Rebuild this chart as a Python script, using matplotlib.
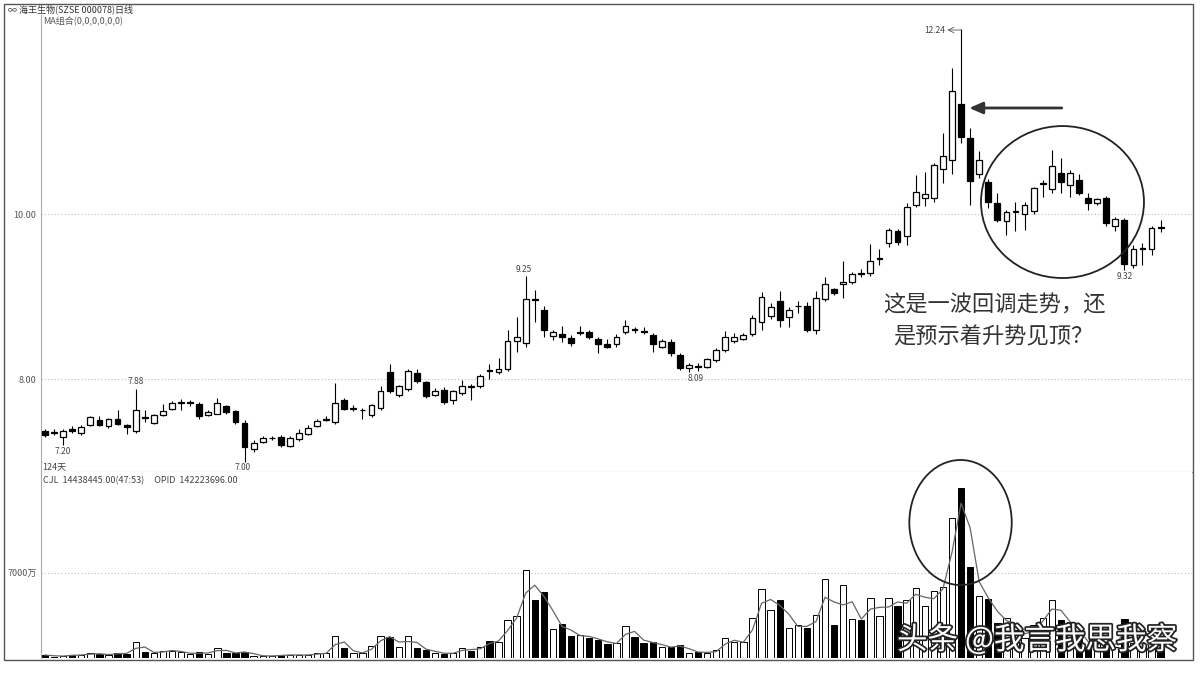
import numpy as np
import pandas as pd
import matplotlib
matplotlib.use('Agg')
import matplotlib.pyplot as plt
from matplotlib.patches import Rectangle, Ellipse
import matplotlib.patheffects as pe

plt.rcParams['font.family'] = ['Noto Sans CJK SC', 'DejaVu Sans']

# daily candles, 124 days
opens = [7.37, 7.36, 7.30, 7.39, 7.34, 7.44, 7.50, 7.43, 7.52, 7.44,
         7.37, 7.54, 7.47, 7.56, 7.64, 7.71, 7.71, 7.70, 7.56, 7.58,
         7.67, 7.61, 7.47, 7.15, 7.24, 7.28, 7.30, 7.19, 7.27, 7.33,
         7.43, 7.50, 7.48, 7.75, 7.64, 7.62, 7.56, 7.65, 8.08, 7.81,
         7.88, 8.07, 7.96, 7.81, 7.87, 7.74, 7.83, 7.91, 7.92, 8.11,
         8.08, 8.12, 8.46, 8.44, 8.97, 8.84, 8.52, 8.54, 8.50, 8.56,
         8.57, 8.49, 8.42, 8.42, 8.57, 8.61, 8.58, 8.53, 8.39, 8.45,
         8.29, 8.13, 8.16, 8.15, 8.23, 8.35, 8.46, 8.49, 8.55, 8.69,
         8.76, 8.95, 8.75, 8.88, 8.88, 8.60, 8.97, 9.09, 9.15, 9.18,
         9.28, 9.28, 9.46, 9.65, 9.79, 9.73, 10.11, 10.19, 10.19, 10.54,
         10.66, 11.33, 10.92, 10.49, 10.39, 10.13, 9.91, 10.03, 10.00, 10.04,
         10.36, 10.30, 10.50, 10.35, 10.41, 10.20, 10.13, 10.20, 9.85, 9.93,
         9.38, 9.58, 9.57, 9.84]
closes = [7.32, 7.35, 7.37, 7.37, 7.42, 7.54, 7.44, 7.52, 7.46, 7.42,
          7.63, 7.53, 7.56, 7.61, 7.71, 7.72, 7.71, 7.55, 7.60, 7.71,
          7.60, 7.48, 7.18, 7.23, 7.28, 7.29, 7.20, 7.29, 7.35, 7.41,
          7.49, 7.51, 7.71, 7.64, 7.65, 7.63, 7.68, 7.85, 7.85, 7.91,
          8.10, 7.97, 7.79, 7.86, 7.72, 7.85, 7.92, 7.90, 8.04, 8.10,
          8.12, 8.46, 8.51, 8.97, 8.96, 8.59, 8.57, 8.51, 8.44, 8.56,
          8.51, 8.42, 8.39, 8.51, 8.64, 8.59, 8.57, 8.42, 8.46, 8.31,
          8.13, 8.17, 8.15, 8.24, 8.35, 8.51, 8.51, 8.53, 8.74, 9.00,
          8.87, 8.72, 8.84, 8.89, 8.59, 8.98, 9.15, 9.04, 9.18, 9.27,
          9.27, 9.43, 9.47, 9.81, 9.66, 10.08, 10.27, 10.24, 10.59, 10.70,
          11.49, 10.93, 10.40, 10.65, 10.14, 9.93, 10.03, 10.03, 10.11, 10.31,
          10.37, 10.58, 10.39, 10.50, 10.25, 10.13, 10.18, 9.89, 9.94, 9.40,
          9.58, 9.59, 9.83, 9.83]
highs = [7.39, 7.40, 7.39, 7.43, 7.44, 7.55, 7.55, 7.53, 7.62, 7.46,
         7.88, 7.62, 7.58, 7.70, 7.73, 7.76, 7.75, 7.72, 7.62, 7.77,
         7.69, 7.63, 7.50, 7.26, 7.31, 7.31, 7.32, 7.31, 7.39, 7.44,
         7.52, 7.55, 7.95, 7.77, 7.68, 7.65, 7.70, 7.91, 8.18, 7.93,
         8.12, 8.12, 7.98, 7.89, 7.90, 7.87, 7.99, 7.94, 8.06, 8.18,
         8.25, 8.59, 8.75, 9.25, 9.08, 8.88, 8.60, 8.64, 8.53, 8.64,
         8.59, 8.51, 8.49, 8.55, 8.72, 8.63, 8.63, 8.56, 8.49, 8.49,
         8.31, 8.19, 8.20, 8.26, 8.37, 8.58, 8.56, 8.56, 8.78, 9.06,
         8.92, 9.07, 8.87, 8.94, 8.93, 9.07, 9.24, 9.10, 9.43, 9.30,
         9.33, 9.64, 9.58, 9.83, 9.82, 10.13, 10.47, 10.51, 10.62, 10.98,
         11.77, 12.24, 11.04, 10.76, 10.42, 10.25, 10.05, 10.15, 10.14, 10.33,
         10.41, 10.77, 10.68, 10.53, 10.48, 10.25, 10.20, 10.22, 9.96, 9.95,
         9.62, 9.65, 9.86, 9.93]
lows = [7.30, 7.32, 7.20, 7.35, 7.32, 7.43, 7.43, 7.41, 7.44, 7.33,
        7.35, 7.48, 7.45, 7.55, 7.62, 7.63, 7.67, 7.52, 7.55, 7.57,
        7.58, 7.46, 7.00, 7.11, 7.22, 7.26, 7.18, 7.17, 7.25, 7.32,
        7.42, 7.49, 7.46, 7.62, 7.61, 7.52, 7.54, 7.63, 7.83, 7.78,
        7.85, 7.95, 7.77, 7.79, 7.70, 7.70, 7.81, 7.75, 7.89, 8.00,
        8.06, 8.10, 8.33, 8.39, 8.69, 8.51, 8.47, 8.45, 8.40, 8.53,
        8.48, 8.32, 8.38, 8.39, 8.55, 8.56, 8.55, 8.33, 8.37, 8.28,
        8.11, 8.09, 8.10, 8.13, 8.21, 8.33, 8.44, 8.47, 8.52, 8.59,
        8.73, 8.63, 8.63, 8.80, 8.57, 8.55, 8.94, 9.02, 8.98, 9.15,
        9.24, 9.25, 9.38, 9.60, 9.62, 9.62, 10.08, 10.10, 10.15, 10.38,
        10.49, 10.86, 10.11, 10.44, 10.07, 9.90, 9.74, 9.79, 9.81, 10.00,
        10.21, 10.26, 10.25, 10.21, 10.23, 10.05, 10.11, 9.85, 9.80, 9.32,
        9.34, 9.38, 9.50, 9.78]
# volume, unit: 万
volume = [270, 140, 220, 270, 270, 410, 330, 270, 470, 330,
          1290, 550, 410, 630, 630, 490, 330, 490, 380, 880,
          410, 470, 550, 220, 190, 190, 270, 270, 270, 270,
          410, 410, 1840, 820, 410, 470, 1010, 1840, 1700, 960,
          1780, 820, 680, 470, 350, 470, 820, 600, 960, 1450,
          1370, 3150, 3430, 7210, 4720, 5400, 2390, 2820, 1780, 1920,
          1650, 1510, 1180, 1240, 2660, 1730, 1240, 1340, 910, 910,
          1100, 470, 550, 410, 680, 1650, 1290, 1340, 3290, 5680,
          3920, 4740, 2470, 2740, 2470, 3510, 6450, 2740, 5980, 3240,
          3150, 4880, 3430, 4940, 4250, 4740, 5710, 4250, 5480, 5850,
          11450, 13860, 7410, 5070, 4800, 2880, 3290, 2330, 1670, 2740,
          3290, 4740, 3100, 2930, 1780, 960, 1240, 1300, 960, 3240,
          1240, 960, 1240, 820]

opens = np.array(opens); closes = np.array(closes)
highs = np.array(highs); lows = np.array(lows)
x = np.arange(len(opens))
up = closes >= opens
face = np.where(up, 'white', 'black')

W, H = 1200, 675
fig = plt.figure(figsize=(12, 6.75), dpi=100)

def fx(px):
    return px / W

def fy(py):
    return 1 - py / H

ax = fig.add_axes([fx(40.7), fy(472), fx(1192 - 40.7), (472 - 15) / H])
ax2 = fig.add_axes([fx(40.7), fy(658.3), fx(1192 - 40.7), (658.3 - 472) / H])

# ---- price pane
ax.axhline(10, color='#bbbbbb', lw=0.8, ls=(0, (1, 2)), zorder=0)
ax.axhline(8, color='#bbbbbb', lw=0.8, ls=(0, (1, 2)), zorder=0)
ax.vlines(x, lows, highs, color='black', lw=0.8, zorder=2)
body = np.maximum(np.abs(closes - opens), 0.008)
ax.bar(x, body, bottom=np.minimum(opens, closes), width=0.64, color=face,
       edgecolor='black', linewidth=0.9, zorder=3)

ax.set_xlim(-0.474, 126.46)
ax.set_ylim(6.873, 12.412)
ax.set_xticks([])
ax.set_yticks([8, 10])
ax.set_yticklabels(['8.00', '10.00'])
ax.tick_params(axis='y', length=0, pad=3, labelsize=6.5, labelcolor='#555555')
for s in ['top', 'right']:
    ax.spines[s].set_visible(False)
ax.spines['left'].set_color('#aaaaaa')
ax.spines['bottom'].set_color('#999999')

lab = dict(fontsize=6, color='#444444', ha='center')
ax.text(10, 7.91, '7.88', va='bottom', **lab)
ax.text(2, 7.17, '7.20', va='top', **lab)
ax.text(21.8, 6.98, '7.00', va='top', **lab)
ax.text(52.8, 9.27, '9.25', va='bottom', **lab)
ax.text(71.7, 8.06, '8.09', va='top', **lab)
ax.text(119, 9.30, '9.32', va='top', **lab)
ax.text(99.3, 12.23, '12.24', va='center', ha='right', fontsize=6, color='#444444')
ax.annotate('', xy=(99.5, 12.23), xytext=(101, 12.23),
            arrowprops=dict(arrowstyle='->', lw=0.6, color='#555555', shrinkA=0, shrinkB=0))

ax.annotate('', xy=(101.9, 11.285), xytext=(112.1, 11.285),
            arrowprops=dict(arrowstyle='-|>,head_length=0.8,head_width=0.35', lw=2,
                            color='#333333', shrinkA=0, shrinkB=0))
ax.add_patch(Ellipse((112.18, 10.145), 17.97, 1.842, fill=False, ec='#222222', lw=1.3, zorder=4))

# ---- volume pane
ax2.axhline(7000, color='#bbbbbb', lw=0.8, ls=(0, (1, 2)), zorder=0)
ax2.bar(x, volume, width=0.7, color=face, edgecolor='black', linewidth=0.7, zorder=2)
ma = pd.Series(volume).rolling(2, min_periods=1).mean()
ax2.plot(x, ma, color='#666666', lw=0.9, zorder=3)
ax2.set_xlim(-0.474, 126.46)
ax2.set_ylim(0, 15200)
ax2.set_xticks([])
ax2.set_yticks([7000])
ax2.set_yticklabels(['7000万'])
ax2.tick_params(axis='y', length=0, pad=3, labelsize=6.5, labelcolor='#555555')
for s in ['top', 'right', 'bottom']:
    ax2.spines[s].set_visible(False)
ax2.spines['left'].set_color('#aaaaaa')
ax2.add_patch(Ellipse((100.94, 11080), 11.29, 10200, fill=False, ec='#222222', lw=1.3,
                      zorder=4, clip_on=False))

# ---- frame and header texts
fig.add_artist(Rectangle((fx(4), fy(660)), fx(1189), 656 / H, transform=fig.transFigure,
                         fill=False, ec='#555555', lw=1))
fig.text(fx(8), fy(9), '∞ 海王生物(SZSE 000078)日线', fontsize=6.5, color='#333333', va='center')
fig.text(fx(43), fy(22), 'MA组合(0,0,0,0,0,0)', fontsize=6.5, color='#555555', va='center')
fig.text(fx(42), fy(467), '124天', fontsize=6.5, color='#444444', va='center')
fig.text(fx(43), fy(481), 'CJL  14438445.00(47:53)     OPID  142223696.00', fontsize=6.5,
         color='#444444', va='center')

fig.text(fx(883), fy(305), '这是一波回调走势，还', fontsize=16, color='#333333', va='center')
fig.text(fx(893), fy(337), '是预示着升势见顶？', fontsize=16, color='#333333', va='center')

fig.text(fx(897), fy(640), '头条 @我言我思我察', fontsize=22, color='white', va='center', zorder=10,
         path_effects=[pe.withStroke(linewidth=2.5, foreground='#222222')])

fig.savefig('out.png', dpi=100)
